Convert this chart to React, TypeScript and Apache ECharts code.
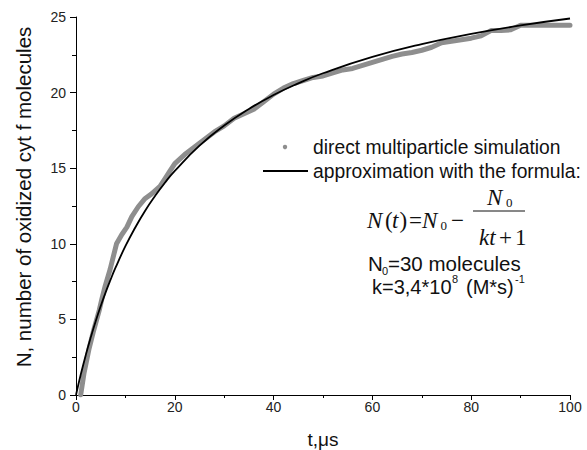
import React, { useEffect, useRef } from "react";
import * as echarts from "echarts";

// Simulation (gray band): t (µs), N
const simT = [0.95, 1.6, 2.6, 3.6, 4.7, 5.2, 5.9, 6.9, 7.55, 8.2, 9.25, 10.3, 11.3, 12.6, 14.0, 15.3, 17.0, 18.0, 19.0, 20.0, 22, 24, 26, 28, 30, 32, 34, 36, 38, 40, 42, 44, 46, 48, 50, 52, 54, 56, 58, 60, 62, 64, 66, 68, 70, 72, 74, 76, 78, 80, 82, 84, 86, 88, 90, 92, 95, 100];
const simN = [0, 1.4, 3.0, 4.3, 5.6, 6.3, 7.2, 8.3, 9.15, 10.0, 10.6, 11.1, 11.8, 12.45, 13.0, 13.3, 13.8, 14.3, 14.8, 15.3, 15.9, 16.4, 16.9, 17.4, 17.8, 18.3, 18.6, 18.9, 19.4, 19.9, 20.3, 20.6, 20.8, 21.0, 21.1, 21.3, 21.5, 21.6, 21.8, 22.0, 22.2, 22.4, 22.55, 22.65, 22.8, 23.0, 23.3, 23.4, 23.5, 23.6, 23.75, 24.1, 24.1, 24.15, 24.45, 24.45, 24.45, 24.45];

// Approximation curve (black line): t (µs), N
const fitT = [0, 1, 2, 3, 4, 5, 6, 7, 8, 10, 12, 14, 16, 18, 20, 25, 30, 35, 40, 45, 50, 60, 70, 80, 90, 100];
const fitN = [0, 1.4, 2.67, 3.83, 4.9, 5.88, 6.79, 7.63, 8.42, 9.84, 11.08, 12.19, 13.16, 14.04, 14.82, 16.49, 17.82, 18.92, 19.84, 20.61, 21.28, 22.36, 23.21, 23.88, 24.44, 24.9];

const seriesNames = ["direct multiparticle simulation", "approximation with the formula:"];
const xAxisTitle = "t,\u03bcs";
const yAxisTitle = "N, number of oxidized cyt f molecules";

const SANS = "'Liberation Sans', Arial, sans-serif";
const SERIF = "'Liberation Serif', 'Times New Roman', serif";

function t(text: string, x: number, y: number, size: number, opts: any = {}) {
  return {
    type: "text",
    x,
    y,
    rotation: opts.rotation || 0,
    style: {
      text,
      fill: "#111",
      fontSize: size,
      fontFamily: opts.family || SANS,
      fontStyle: opts.italic ? "italic" : "normal",
      align: opts.align || "left",
      verticalAlign: "middle",
    },
  };
}

export default function App() {
  const ref = useRef<HTMLDivElement>(null);
  useEffect(() => {
    if (!ref.current) return;
    const chart = echarts.init(ref.current, null, { renderer: "svg" });
    const sim = simT.map((v, i) => [v, simN[i]]);
    const fit = fitT.map((v, i) => [v, fitN[i]]);
    chart.setOption({
      animation: false,
      backgroundColor: "#fff",
      grid: { left: 76, right: 17, top: 17, bottom: 55, containLabel: false, outerBoundsMode: "none" },
      xAxis: {
        type: "value",
        min: 0,
        max: 100,
        interval: 20,
        name: xAxisTitle,
        nameLocation: "middle",
        nameGap: 35,
        nameTextStyle: { fontSize: 19, color: "#111", fontFamily: SANS },
        axisLine: { lineStyle: { color: "#000", width: 1 } },
        axisTick: { show: true, inside: false, length: 5, lineStyle: { color: "#000" } },
        minorTick: { show: true, splitNumber: 2, length: 3, lineStyle: { color: "#000" } },
        splitLine: { show: false },
        minorSplitLine: { show: false },
        axisLabel: { fontSize: 14, color: "#222", fontFamily: SANS, margin: 5 },
      },
      yAxis: {
        type: "value",
        min: 0,
        max: 25,
        interval: 5,
        axisLine: { show: true, lineStyle: { color: "#000", width: 1 } },
        axisTick: { show: true, inside: false, length: 6, lineStyle: { color: "#000" } },
        minorTick: { show: true, splitNumber: 2, length: 4, lineStyle: { color: "#000" } },
        splitLine: { show: false },
        minorSplitLine: { show: false },
        axisLabel: { fontSize: 14, color: "#222", fontFamily: SANS, margin: 10 },
      },
      series: [
        {
          name: seriesNames[0],
          type: "line",
          data: sim,
          showSymbol: false,
          symbol: "none",
          lineStyle: { color: "#8e8e8e", width: 5, join: "round", cap: "round" },
          z: 2,
        },
        {
          name: seriesNames[1],
          type: "line",
          data: fit,
          smooth: true,
          showSymbol: false,
          symbol: "none",
          lineStyle: { color: "#000", width: 1.8 },
          z: 3,
        },
      ],
      graphic: [
        t(yAxisTitle, 23, 197, 20.5, { rotation: Math.PI / 2, align: "center" }),
        { type: "circle", shape: { cx: 285, cy: 147, r: 2.2 }, style: { fill: "#8e8e8e" } },
        t(seriesNames[0], 313, 147, 19.3),
        { type: "line", shape: { x1: 263, y1: 171, x2: 308, y2: 171 }, style: { stroke: "#000", lineWidth: 1.8 } },
        t(seriesNames[1], 313, 171, 19.3),
        // formula
        t("N", 367, 220, 23, { family: SERIF, italic: true }),
        t("(", 385, 220, 23, { family: SERIF }),
        t("t", 392, 220, 23, { family: SERIF, italic: true }),
        t(")", 399.5, 220, 23, { family: SERIF }),
        t("=", 409, 220, 23, { family: SERIF }),
        t("N", 422, 220, 23, { family: SERIF, italic: true }),
        t("0", 440.5, 225, 13, { family: SERIF }),
        t("\u2212", 451, 220, 23, { family: SERIF }),
        t("N", 487, 197, 23, { family: SERIF, italic: true }),
        t("0", 506, 202, 13, { family: SERIF }),
        { type: "line", shape: { x1: 473, y1: 211, x2: 525, y2: 211 }, style: { stroke: "#111", lineWidth: 1 } },
        t("kt", 479, 237, 23, { family: SERIF, italic: true }),
        t("+", 499, 237, 23, { family: SERIF }),
        t("1", 515, 237, 23, { family: SERIF }),
        // parameters
        t("N", 368, 263, 20.5),
        t("0", 382, 271, 11),
        t("=30 molecules", 388, 263, 20.5),
        t("k=3,4*10", 372, 287, 20),
        t("8", 452, 279, 11),
        t("(M*s)", 466, 287, 20),
        t("-1", 515, 279, 11),
      ],
    });
    return () => chart.dispose();
  }, []);
  return <div ref={ref} style={{ position: "absolute", left: 0, top: 0, width: 587, height: 450 }} />;
}
